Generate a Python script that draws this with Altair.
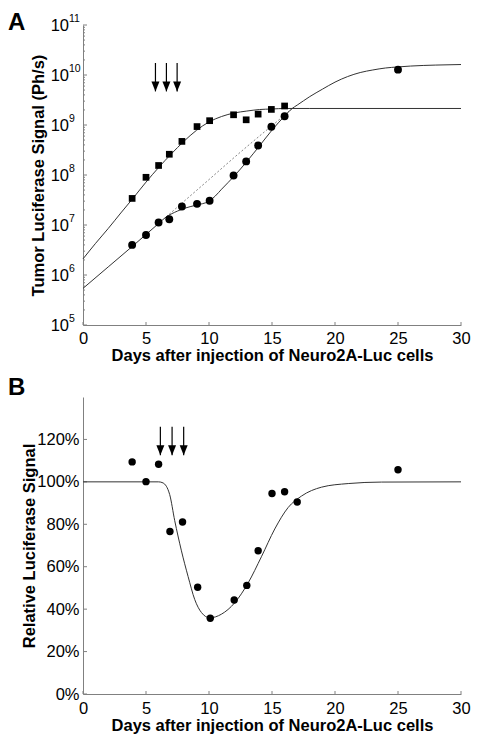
import altair as alt
import pandas as pd

FONT = "Liberation Sans"
AXC = "#808080"

# ---------------- Panel A ----------------
sq_day = [3.9, 5.0, 6.0, 6.85, 7.85, 9.05, 10.05, 11.95, 12.95, 13.9, 14.95, 16.0]
sq_val = [3.4e7, 9.0e7, 1.55e8, 2.6e8, 4.7e8, 9.3e8, 1.22e9, 1.6e9, 1.27e9, 1.65e9, 2.05e9, 2.4e9]

ci_day = [3.9, 5.0, 6.0, 6.85, 7.85, 9.05, 10.05, 11.95, 12.95, 13.9, 14.95, 16.0, 25.0]
ci_val = [4.0e6, 6.3e6, 1.12e7, 1.3e7, 2.35e7, 2.65e7, 3.05e7, 9.8e7, 1.87e8, 3.9e8, 9.2e8, 1.5e9, 1.28e10]

sqfit_day = [0, 1, 2, 3, 4, 5, 6, 7, 8, 9, 10, 11, 12, 13, 14, 15, 16, 18, 30]
sqfit_val = [2.1e6, 4.3e6, 8.5e6, 1.74e7, 3.5e7, 7.2e7, 1.41e8, 2.63e8, 4.7e8, 7.8e8, 1.15e9,
             1.48e9, 1.74e9, 1.9e9, 2.04e9, 2.09e9, 2.14e9, 2.14e9, 2.14e9]

cifit_day = [0, 2, 4, 6, 6.6, 7, 7.5, 8, 9, 10, 10.5, 11, 12, 13, 14, 15, 16, 16.6, 17, 18, 19,
             20, 21, 22, 23, 24, 25, 26, 28, 30]
cifit_val = [5.4e5, 1.45e6, 3.9e6, 1.07e7, 1.45e7, 1.66e7, 1.9e7, 2.14e7, 2.5e7, 3.0e7, 3.8e7,
             5.2e7, 9.5e7, 1.86e8, 3.8e8, 7.9e8, 1.51e9, 2.14e9, 2.5e9, 3.7e9, 5.2e9, 7.2e9,
             9.3e9, 1.12e10, 1.26e10, 1.38e10, 1.45e10, 1.51e10, 1.58e10, 1.62e10]

untr_day = [6.6, 8, 10, 12, 14, 16, 16.6]
untr_val = [1.45e7, 2.95e7, 8.1e7, 2.24e8, 6.0e8, 1.58e9, 2.14e9]

arrA_day = [5.75, 6.62, 7.47]
arrA_top = [1.74e10, 1.74e10, 1.74e10]
arrA_tip = [4.7e9, 4.7e9, 4.7e9]

a_x_ticks = [0, 5, 10, 15, 20, 25, 30]
a_y_major = [1e5, 1e6, 1e7, 1e8, 1e9, 1e10, 1e11]
a_y_exp = ["5", "6", "7", "8", "9", "10", "11"]
a_y_minor = [k * m for m in [1e5, 1e6, 1e7, 1e8, 1e9, 1e10] for k in range(2, 10)]

# ---------------- Panel B ----------------
b_day = [3.9, 5.0, 6.0, 6.9, 7.9, 9.1, 10.1, 12.0, 13.0, 13.9, 15.0, 16.0, 17.0, 25.0]
b_val = [109.4, 100.1, 108.3, 76.6, 81.1, 50.3, 35.7, 44.3, 51.2, 67.5, 94.5, 95.3, 90.5, 105.7]

bfit_day = [0, 6.0, 6.35, 6.88, 7.28, 7.8, 8.34, 8.87, 9.4, 10.06, 10.98, 12.04, 13.1, 14.16,
            15.22, 16.28, 17.34, 18.93, 21.05, 23.7, 30]
bfit_val = [100, 100, 99.5, 94, 81.7, 67.8, 55.4, 44.5, 38.4, 35.9, 37.6, 43, 52.3, 64.7,
            77.8, 87.9, 93.3, 97.5, 99.2, 99.9, 100]

arrB_day = [6.14, 7.07, 7.99]
arrB_top = [126.0, 126.0, 126.0]
arrB_tip = [112.6, 112.6, 112.6]

b_x_ticks = [0, 5, 10, 15, 20, 25, 30]
b_y_ticks = [0, 20, 40, 60, 80, 100, 120]

XTITLE = "Days after injection of Neuro2A-Luc cells"
HEAD = "M-0.4,-1L0.4,-1L0,0Z"

A_W, A_H = 378, 300
B_W, B_H = 378, 297


def xaxis(pad, tpad):
    return alt.Axis(values=a_x_ticks, title=XTITLE, ticks=False, tickSize=0, grid=False,
                    domainColor=AXC, labelFont=FONT, labelFontSize=16.5, labelColor="black",
                    labelPadding=pad, labelFlush=False, labelOverlap=False,
                    titleFont=FONT, titleFontSize=16.5, titleFontWeight="bold",
                    titleColor="black", titlePadding=tpad)


def panel(W, H, xsc, ysc, yaxis, xticks, ymajor, yminor, lines, dashed, pts, arr_day, arr_top,
          arr_tip, letter, letter_x, letter_y, xpad, xtpad, exps=None):
    X = alt.X("day:Q", scale=xsc, axis=xaxis(xpad, xtpad))
    Y = alt.Y("val:Q", scale=ysc, axis=yaxis)
    layers = []
    # inward ticks
    layers.append(alt.Chart(pd.DataFrame({"val": ymajor})).mark_rule(color=AXC, strokeWidth=1)
                  .encode(y=Y, x=alt.value(0), x2=alt.value(4)))
    if yminor:
        layers.append(alt.Chart(pd.DataFrame({"val": yminor})).mark_rule(color=AXC, strokeWidth=1)
                      .encode(y=Y, x=alt.value(0), x2=alt.value(2)))
    layers.append(alt.Chart(pd.DataFrame({"day": xticks})).mark_rule(color=AXC, strokeWidth=1)
                  .encode(x=X, y=alt.value(H), y2=alt.value(H - 3)))
    if exps:
        layers.append(alt.Chart(pd.DataFrame({"val": ymajor, "e": exps}))
                      .mark_text(font=FONT, fontSize=10.5, align="left", baseline="alphabetic",
                                 dy=-3.5, color="black")
                      .encode(y=Y, x=alt.value(-14), text="e:N"))
    for d, v in dashed:
        layers.append(alt.Chart(pd.DataFrame({"day": d, "val": v}))
                      .mark_line(color="#777777", strokeWidth=0.9, strokeDash=[2, 2],
                                 interpolate="monotone")
                      .encode(x=X, y=Y))
    for d, v in lines:
        layers.append(alt.Chart(pd.DataFrame({"day": d, "val": v}))
                      .mark_line(color="#333333", strokeWidth=1, interpolate="monotone")
                      .encode(x=X, y=Y))
    for d, v, shape, size in pts:
        layers.append(alt.Chart(pd.DataFrame({"day": d, "val": v}))
                      .mark_point(shape=shape, filled=True, size=size, color="black", opacity=1)
                      .encode(x=X, y=Y))
    adf = pd.DataFrame({"day": arr_day, "val": arr_top, "tip": arr_tip})
    layers.append(alt.Chart(adf).mark_rule(color="black", strokeWidth=1.2)
                  .encode(x=X, y=Y, y2="tip:Q"))
    hdf = pd.DataFrame({"day": arr_day, "val": arr_tip})
    layers.append(alt.Chart(hdf).mark_point(shape=HEAD, filled=True, size=400, color="black",
                                            opacity=1)
                  .encode(x=X, y=Y))
    layers.append(alt.Chart(pd.DataFrame({"t": [letter]}))
                  .mark_text(font=FONT, fontSize=24, fontWeight="bold", align="left",
                             baseline="alphabetic", color="black")
                  .encode(text="t:N", x=alt.value(letter_x), y=alt.value(letter_y)))
    return alt.layer(*layers).properties(width=W, height=H)


yaxisA = alt.Axis(values=a_y_major, title="Tumor Luciferase Signal (Ph/s)", ticks=False,
                  tickSize=0, grid=False, domainColor=AXC,
                  labelExpr="'10'",
                  labelFont=FONT, labelFontSize=16.5, labelColor="black", labelPadding=14.5,
                  labelFlush=False, labelOverlap=False,
                  titleFont=FONT, titleFontSize=16.5, titleFontWeight="bold", titleColor="black",
                  titleX=-37)

yaxisB = alt.Axis(values=b_y_ticks, title="Relative Luciferase Signal", ticks=False, tickSize=0,
                  grid=False, domainColor=AXC, labelExpr="datum.value + '%'",
                  labelFont=FONT, labelFontSize=16.5, labelColor="black", labelPadding=4,
                  labelFlush=False, labelOverlap=False,
                  titleFont=FONT, titleFontSize=16.5, titleFontWeight="bold", titleColor="black",
                  titleX=-46)

chartA = panel(
    A_W, A_H,
    alt.Scale(domain=[0, 30], nice=False, zero=False),
    alt.Scale(type="log", domain=[1e5, 1e11], nice=False),
    yaxisA, a_x_ticks, a_y_major, a_y_minor,
    [(sqfit_day, sqfit_val), (cifit_day, cifit_val)],
    [(untr_day, untr_val)],
    [(sq_day, sq_val, "square", 45), (ci_day, ci_val, "circle", 62)],
    arrA_day, arrA_top, arrA_tip, "A", -75, 5, 5, 1, exps=a_y_exp)

chartB = panel(
    B_W, B_H,
    alt.Scale(domain=[0, 30], nice=False, zero=False),
    alt.Scale(domain=[0, 140], nice=False, zero=True),
    yaxisB, b_x_ticks, b_y_ticks, [],
    [(bfit_day, bfit_val)],
    [],
    [(b_day, b_val, "circle", 55)],
    arrB_day, arrB_top, arrB_tip, "B", -75, -2, 6, 1)

chart = (alt.vconcat(chartA, chartB, spacing=12)
         .properties(padding={"left": 0, "top": 3, "right": 0, "bottom": 0}, background="white")
         .configure_view(stroke=None))

chart.save("out.html", embed_options={"renderer": "svg", "actions": False})
